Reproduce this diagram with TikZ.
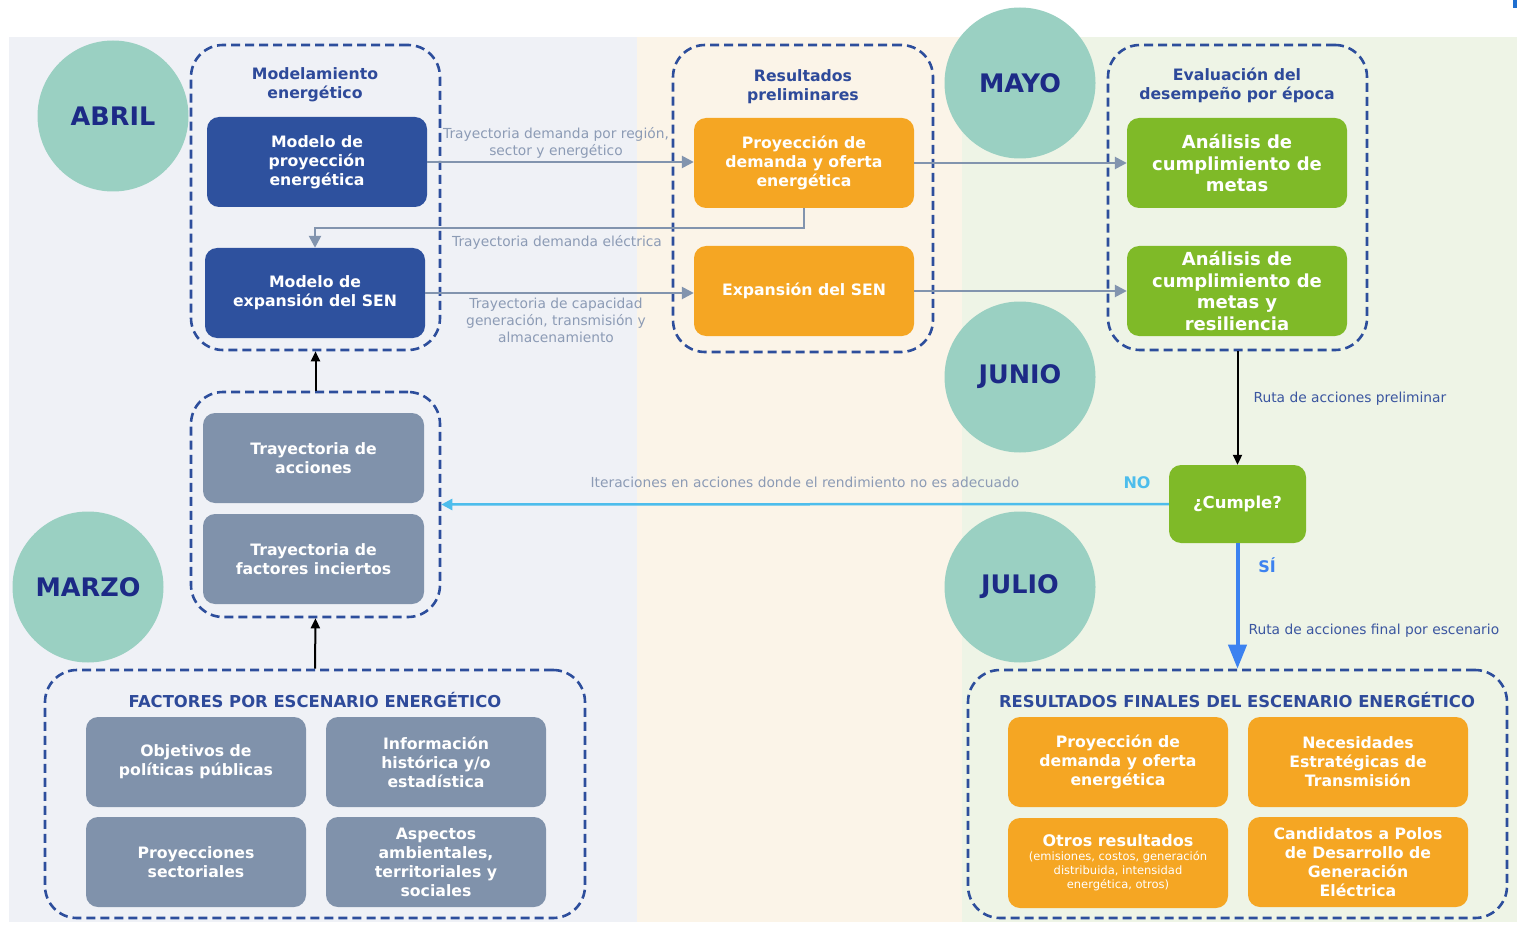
\documentclass[tikz,border=0pt]{standalone}
\usepackage{fontspec}
\setmainfont{DejaVu Sans}
\usetikzlibrary{arrows.meta,shapes.geometric}
\definecolor{panL}{HTML}{EFF1F6}
\definecolor{panM}{HTML}{FBF4E8}
\definecolor{panR}{HTML}{EEF4E6}
\definecolor{tealc}{HTML}{9AD0C2}
\definecolor{monthc}{HTML}{1C2A86}
\definecolor{dashc}{HTML}{2D4E9C}
\definecolor{titc}{HTML}{2E4A9A}
\definecolor{bluebox}{HTML}{2E519E}
\definecolor{orangebox}{HTML}{F5A623}
\definecolor{greenbox}{HTML}{7FBA28}
\definecolor{graybox}{HTML}{8092AB}
\definecolor{grayarr}{HTML}{8294AE}
\definecolor{graytxt}{HTML}{8C9BB5}
\definecolor{lightblue}{HTML}{4DBDEC}
\definecolor{siblue}{HTML}{3C82F0}
\definecolor{rutac}{HTML}{3B56A0}
\definecolor{markblue}{HTML}{1F6FD0}
\tikzset{
  month/.style={circle, fill=tealc, minimum size=151pt, inner sep=0pt, text=monthc, font=\fontsize{25.5}{30}\selectfont\bfseries},
  grp/.style={draw=dashc, line width=2.6pt, dash pattern=on 9pt off 5pt, rounded corners=32pt, inner sep=0pt},
  bx/.style={rounded corners=12pt, minimum width=220pt, minimum height=90pt, inner sep=2pt, align=center, text=white, font=\fontsize{15.7}{19}\selectfont\bfseries},
  gtitle/.style={text=titc, font=\fontsize{15.7}{19}\selectfont\bfseries, align=center},
  ctitle/.style={text=titc, font=\fontsize{16.4}{19}\selectfont\bfseries, align=center},
  elab/.style={text=graytxt, font=\fontsize{13.8}{17}\selectfont, align=center},
  rlab/.style={text=rutac, font=\fontsize{13.8}{17}\selectfont, anchor=west},
  garrow/.style={draw=grayarr, line width=2.5pt, -{Triangle[length=12pt,width=12pt]}},
  karrow/.style={draw=black, line width=2pt, -{Triangle[length=10pt,width=9pt]}},
}
\begin{document}
\begin{tikzpicture}[x=1pt,y=-1pt]
\useasboundingbox (0,0) rectangle (1517,925);
% panels
\fill[panL] (9,37) rectangle (637,922);
\fill[panM] (637,37) rectangle (962,922);
\fill[panR] (962,37) rectangle (1517,922);
\fill[markblue] (1513,0) rectangle (1517,8);
% months
\node[month] (abril) at (113,116) {ABRIL};
\node[month] (mayo) at (1020,83) {MAYO};
\node[month] (junio) at (1020,377) {JUNIO};
\node[month] (julio) at (1020,587) {JULIO};
\node[month] (marzo) at (88,587) {MARZO};
% groups
\node[grp, minimum width=249pt, minimum height=305pt] (gMod) at (315.5,197.5) {};
\node[grp, minimum width=260pt, minimum height=307pt] (gRes) at (803,198.5) {};
\node[grp, minimum width=259pt, minimum height=305pt] (gEval) at (1237.5,197.5) {};
\node[grp, minimum width=249pt, minimum height=225pt] (gTray) at (315.5,504.5) {};
\node[grp, minimum width=540pt, minimum height=248pt] (gFac) at (315,794) {};
\node[grp, minimum width=539pt, minimum height=248pt] (gFin) at (1237.5,794) {};
% titles
\node[gtitle] (tMod) at (315,84.5) {Modelamiento\\energético};
\node[gtitle] (tRes) at (803,86.5) {Resultados\\preliminares};
\node[gtitle] (tEval) at (1237,85.5) {Evaluación del\\desempeño por época};
\node[ctitle] (tFac) at (315,700) {FACTORES POR ESCENARIO ENERGÉTICO};
\node[ctitle] (tFin) at (1237,700) {RESULTADOS FINALES DEL ESCENARIO ENERGÉTICO};
% boxes
\node[bx, fill=bluebox] (mproj) at (317,162) {Modelo de\\proyección\\energética};
\node[bx, fill=bluebox] (mexp) at (315,293) {Modelo de\\expansión del SEN};
\node[bx, fill=orangebox] (po1) at (804,163) {Proyección de\\demanda y oferta\\energética};
\node[bx, fill=orangebox] (po2) at (804,291) {Expansión del SEN};
\node[bx, fill=greenbox, font=\fontsize{18}{21.7}\selectfont\bfseries] (an1) at (1237,163) {Análisis de\\cumplimiento de\\metas};
\node[bx, fill=greenbox, font=\fontsize{18}{21.7}\selectfont\bfseries] (an2) at (1237,291) {Análisis de\\cumplimiento de\\metas y\\resiliencia};
\node[bx, fill=graybox, minimum width=221pt] (tacc) at (313.5,458) {Trayectoria de\\acciones};
\node[bx, fill=graybox, minimum width=221pt] (tfac) at (313.5,559) {Trayectoria de\\factores inciertos};
\node[bx, fill=greenbox, minimum width=137pt, minimum height=78pt, font=\fontsize{16.5}{19}\selectfont\bfseries] (cumple) at (1237.5,504) {¿Cumple?};
\node[bx, fill=graybox] (f1) at (196,762) {Objetivos de\\políticas públicas};
\node[bx, fill=graybox] (f2) at (436,762) {Información\\histórica y/o\\estadística};
\node[bx, fill=graybox] (f3) at (196,862) {Proyecciones\\sectoriales};
\node[bx, fill=graybox] (f4) at (436,862) {Aspectos\\ambientales,\\territoriales y\\sociales};
\node[bx, fill=orangebox] (r1) at (1118,762) {Proyección de\\demanda y oferta\\energética};
\node[bx, fill=orangebox] (r2) at (1358,762) {Necesidades\\Estratégicas de\\Transmisión};
\node[bx, fill=orangebox, font=\fontsize{11.5}{14}\selectfont] (r3) at (1118,863) {{\fontsize{16}{19}\selectfont\bfseries Otros resultados}\\(emisiones, costos, generación\\distribuida, intensidad\\energética, otros)};
\node[bx, fill=orangebox] (r4) at (1358,862) {Candidatos a Polos\\de Desarrollo de\\Generación\\Eléctrica};
% connectors
\draw[garrow] (mproj.east) -- (mproj.east -| po1.west);
\draw[garrow] (po1.south) -- ++(0,20) -| (mexp.north);
\draw[garrow] (mexp.east) -- (mexp.east -| po2.west);
\draw[garrow] (po1.east) -- (po1.east -| an1.west);
\draw[garrow] (po2.east) -- (po2.east -| an2.west);
\draw[karrow] (gEval.south) -- (cumple.north);
\draw[draw=lightblue, line width=2.5pt, -{Triangle[length=11pt,width=11pt]}] (cumple.west) -- (gTray.east);
\draw[draw=siblue, line width=4pt, -{Triangle[length=24pt,width=18pt]}] (cumple.south) -- (gFin.north);
\draw[karrow] (gTray.north) -- (gMod.south);
\draw[karrow] (gFac.north) -- (gTray.south);
% labels
\node[elab] (l1) at (556,142.5) {Trayectoria demanda por región,\\sector y energético};
\node[elab] (l2) at (557,242) {Trayectoria demanda eléctrica};
\node[elab] (l3) at (556,320) {Trayectoria de capacidad\\generación, transmisión y\\almacenamiento};
\node[elab] (l4) at (805,482) {Iteraciones en acciones donde el rendimiento no es adecuado};
\node[rlab] (l5) at (1250,399) {Ruta de acciones preliminar};
\node[rlab] (l6) at (1245,631) {Ruta de acciones final por escenario};
\node[text=lightblue, font=\fontsize{16}{19}\selectfont\bfseries] (no) at (1137,483) {NO};
\node[text=siblue, font=\fontsize{16}{19}\selectfont\bfseries] (si) at (1267,565) {SÍ};
\end{tikzpicture}
\end{document}
